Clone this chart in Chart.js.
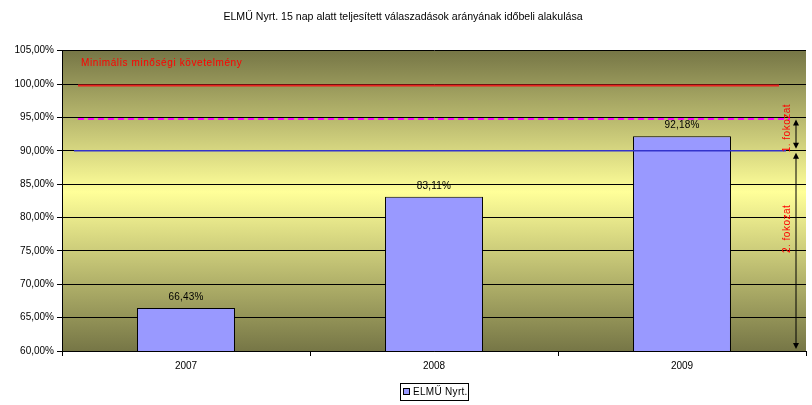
<!DOCTYPE html>
<html>
<head>
<meta charset="utf-8">
<script src="https://cdn.jsdelivr.net/npm/chart.js@4.4.1/dist/chart.umd.min.js"></script>
<style>
  html, body { margin: 0; padding: 0; background: #fff; }
</style>
</head>
<body>
<canvas id="myChart" width="812" height="405"></canvas>
<script>
  // data
  const years = ['2007', '2008', '2009'];
  const elmuValues = [66.43, 83.11, 92.18];
  const seriesName = 'ELMŰ Nyrt.';
  const yMin = 60;
  const yMax = 105;
  const yStep = 5;
  const minRequirement = 100;   // red line
  const level1Limit = 95;       // dashed magenta line
  const level2Limit = 90;       // blue line
  const chartTitle = 'ELMŰ Nyrt. 15 nap alatt teljesített válaszadások arányának időbeli alakulása';

  const fmt = v => v.toFixed(2).replace('.', ',') + '%';
  const FONT = 'Arial, "Liberation Sans", sans-serif';

  const backgroundPlugin = {
    id: 'plotBg',
    beforeDraw(chart) {
      const { ctx, chartArea: a } = chart;
      const g = ctx.createLinearGradient(0, a.top, 0, a.bottom);
      g.addColorStop(0, '#767646');
      g.addColorStop(0.47, '#ffff99');
      g.addColorStop(1, '#767646');
      ctx.save();
      ctx.fillStyle = g;
      ctx.fillRect(a.left, a.top, a.right - a.left, a.bottom - a.top);
      ctx.restore();
    }
  };

  const extrasPlugin = {
    id: 'extras',
    afterDatasetsDraw(chart) {
      const { ctx, chartArea: a, scales: { y } } = chart;
      ctx.save();

      // threshold lines
      const line = (val, x0, x1, color, width, dash, off) => {
        const py = y.getPixelForValue(val) + off;
        ctx.beginPath();
        ctx.strokeStyle = color;
        ctx.lineWidth = width;
        ctx.setLineDash(dash);
        ctx.moveTo(x0, py);
        ctx.lineTo(x1, py);
        ctx.stroke();
      };
      line(minRequirement, a.left + 16, a.right - 27, '#e8231f', 2, [], 1.5);
      line(level1Limit, a.left + 16, a.right - 16, '#ff00ff', 2, [6, 4], 1.5);
      line(level2Limit, a.left + 12, a.right - 20, '#3333cc', 1.5, [], 0);
      ctx.setLineDash([]);

      ctx.fillStyle = '#ff0000';
      ctx.font = '10px ' + FONT;
      ctx.letterSpacing = '0.6px';
      ctx.textAlign = 'left';
      ctx.textBaseline = 'middle';
      ctx.fillText('Minimális minőségi követelmény', a.left + 19, y.getPixelForValue(103.1));

      // value labels
      const meta = chart.getDatasetMeta(0);
      ctx.fillStyle = '#000';
      ctx.letterSpacing = '0.2px';
      ctx.textAlign = 'center';
      ctx.textBaseline = 'bottom';
      meta.data.forEach((bar, i) => {
        ctx.fillText(fmt(elmuValues[i]), bar.x, bar.y - 6);
      });

      // level arrows on the right
      const ax = a.right - 10;
      const arrow = (from, to) => {
        const y0 = y.getPixelForValue(from) + 2;
        const y1 = y.getPixelForValue(to) - 2;
        ctx.strokeStyle = '#000';
        ctx.fillStyle = '#000';
        ctx.lineWidth = 1;
        ctx.beginPath();
        ctx.moveTo(ax, y0 + 4);
        ctx.lineTo(ax, y1 - 4);
        ctx.stroke();
        ctx.beginPath();
        ctx.moveTo(ax, y0); ctx.lineTo(ax - 3, y0 + 6); ctx.lineTo(ax + 3, y0 + 6); ctx.fill();
        ctx.beginPath();
        ctx.moveTo(ax, y1); ctx.lineTo(ax - 3, y1 - 6); ctx.lineTo(ax + 3, y1 - 6); ctx.fill();
      };
      arrow(level1Limit, level2Limit);
      arrow(level2Limit, yMin);

      const vText = (text, val) => {
        ctx.save();
        ctx.translate(ax - 9, y.getPixelForValue(val));
        ctx.rotate(-Math.PI / 2);
        ctx.fillStyle = '#ff0000';
        ctx.letterSpacing = '0.5px';
        ctx.textAlign = 'center';
        ctx.textBaseline = 'middle';
        ctx.fillText(text, 0, 0);
        ctx.restore();
      };
      vText('1. fokozat', 93.4);
      vText('2. fokozat', 78.3);

      ctx.restore();
    },
    afterDraw(chart) {
      // Excel-style framed legend, centred under the plot area
      const { ctx, chartArea: a } = chart;
      const ds = chart.data.datasets[0];
      const w = 68, h = 17;
      const left = Math.round((a.left + a.right) / 2 - w / 2);
      const top = 383;
      ctx.save();
      ctx.strokeStyle = '#000';
      ctx.lineWidth = 1;
      ctx.strokeRect(left + 0.5, top + 0.5, w, h);
      ctx.fillStyle = ds.backgroundColor;
      ctx.fillRect(left + 4, top + 6, 6, 6);
      ctx.strokeRect(left + 3.5, top + 5.5, 6, 6);
      ctx.fillStyle = '#000';
      ctx.font = '10px ' + FONT;
      ctx.letterSpacing = '0.3px';
      ctx.textAlign = 'left';
      ctx.textBaseline = 'middle';
      ctx.fillText(ds.label, left + 13, top + 9.5);
      ctx.restore();
    }
  };

  const ctx = document.getElementById('myChart');

  new Chart(ctx, {
    type: 'bar',
    data: {
      labels: years,
      datasets: [{
        label: seriesName,
        data: elmuValues,
        backgroundColor: '#9999ff',
        borderColor: '#000',
        borderWidth: 1,
        categoryPercentage: 1,
        barPercentage: 0.395
      }]
    },
    options: {
      responsive: false,
      animation: false,
      devicePixelRatio: 1,
      layout: { padding: { left: 0, right: 6, top: 0, bottom: 22 } },
      plugins: {
        title: {
          display: true,
          text: chartTitle,
          color: '#000',
          font: { family: FONT, size: 10.6, weight: 'normal' },
          padding: { top: 11, bottom: 27 }
        },
        legend: { display: false },
        tooltip: { enabled: false }
      },
      scales: {
        x: {
          grid: {
            display: true,
            offset: true,
            drawOnChartArea: false,
            color: '#000',
            tickLength: 5
          },
          border: { color: '#000' },
          ticks: { color: '#000', font: { family: FONT, size: 10 }, padding: 4 },
          afterFit(scale) { scale.height = 32; }
        },
        y: {
          min: yMin,
          max: yMax,
          ticks: {
            stepSize: yStep,
            color: '#000',
            font: { family: FONT, size: 10 },
            padding: 3,
            callback: v => fmt(v)
          },
          grid: { color: '#000', tickLength: 5 },
          border: { color: '#000' },
          afterFit(scale) { scale.width = 62; }
        }
      }
    },
    plugins: [backgroundPlugin, extrasPlugin]
  });
</script>
</body>
</html>
